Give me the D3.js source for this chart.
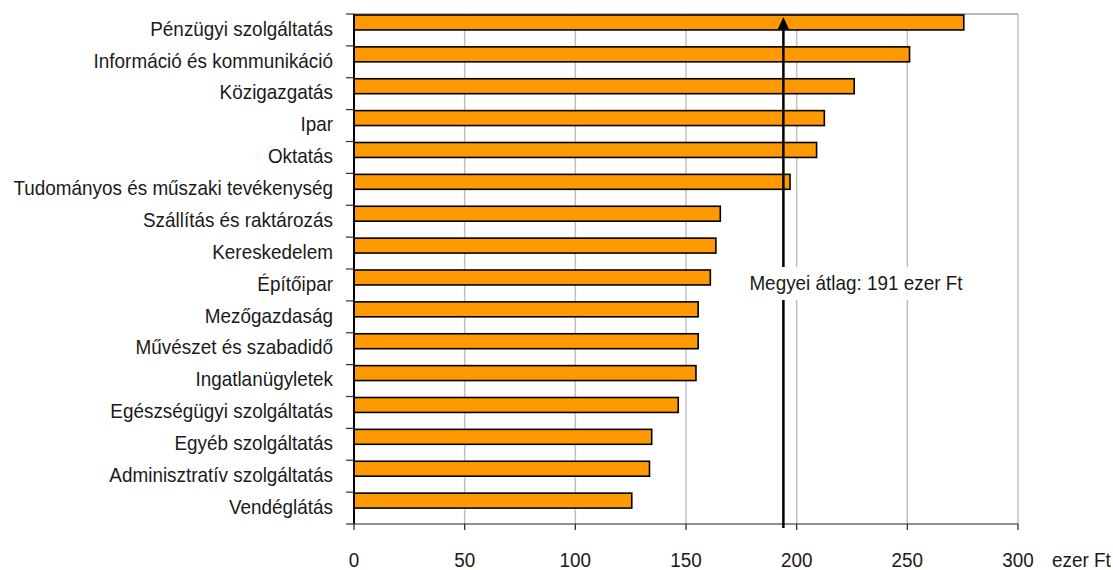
<!DOCTYPE html>
<html>
<head>
<meta charset="utf-8">
<script src="https://cdn.jsdelivr.net/npm/d3@7"></script>
<style>
  body { margin: 0; background: #fff; }
  text { font-family: "Liberation Sans", Arial, sans-serif; fill: #1a1a1a; font-size: 21px; }
</style>
</head>
<body>
<svg id="chart"></svg>
<script>
// data
var categories = ["Pénzügyi szolgáltatás", "Információ és kommunikáció", "Közigazgatás", "Ipar",
    "Oktatás", "Tudományos és műszaki tevékenység", "Szállítás és raktározás", "Kereskedelem",
    "Építőipar", "Mezőgazdaság", "Művészet és szabadidő", "Ingatlanügyletek",
    "Egészségügyi szolgáltatás", "Egyéb szolgáltatás", "Adminisztratív szolgáltatás", "Vendéglátás"];
var values = [275.5, 251, 226, 212.5, 209, 197, 165.5, 163.5, 161, 155.5, 155.5, 154.5, 146.5, 134.5, 133.5, 125.5];
var xTicks = [0, 50, 100, 150, 200, 250, 300];
var averagePos = 194;           // where the arrow is drawn
var averageLabel = "Megyei átlag: 191 ezer Ft";
var unitLabel = "ezer Ft";

var W = 1113, H = 570;
var margin = {top: 14, right: 95, bottom: 46, left: 354};
var width = W - margin.left - margin.right;
var height = H - margin.top - margin.bottom;
var squeeze = 0.9;   // the original text is narrow and tall

var svg = d3.select("#chart").attr("width", W).attr("height", H);
var g = svg.append("g").attr("transform", "translate(" + margin.left + "," + margin.top + ")");

var x = d3.scaleLinear().domain([0, 300]).range([0, width]);
var y = d3.scaleBand().domain(categories).range([0, height]).padding(0);
var bw = y.bandwidth();

function place(px, py) {
    return "translate(" + px + "," + py + ") scale(" + squeeze + ",1)";
}

// plot border top + gridlines
g.append("line").attr("x1", 0).attr("x2", width).attr("y1", 0).attr("y2", 0)
    .attr("stroke", "#a0a0a0").attr("stroke-width", 1.5);
g.selectAll(".grid").data(xTicks.slice(1)).enter().append("line")
    .attr("class", "grid")
    .attr("x1", function(d){ return x(d); }).attr("x2", function(d){ return x(d); })
    .attr("y1", 0).attr("y2", height)
    .attr("stroke", "#c0c0c0").attr("stroke-width", 1.5);

// bars
g.selectAll(".bar").data(values).enter().append("rect")
    .attr("class", "bar")
    .attr("x", 0)
    .attr("y", function(d, i){ return y(categories[i]) + 1; })
    .attr("width", function(d){ return x(d); })
    .attr("height", bw * 0.5 - 1)
    .attr("fill", "#ff9900")
    .attr("stroke", "#000")
    .attr("stroke-width", 1.6);

// y axis
g.append("line").attr("x1", 0).attr("x2", 0).attr("y1", 0).attr("y2", height)
    .attr("stroke", "#000").attr("stroke-width", 2);
var yTickPos = categories.map(function(c){ return y(c); }).concat([height]);
g.selectAll(".ytick").data(yTickPos).enter().append("line")
    .attr("x1", -8).attr("x2", 0)
    .attr("y1", function(d){ return d; }).attr("y2", function(d){ return d; })
    .attr("stroke", "#333").attr("stroke-width", 1.2);
g.selectAll(".ylabel").data(categories).enter().append("text")
    .attr("transform", function(d){ return place(-21, y(d) + bw * 0.68); })
    .attr("text-anchor", "end")
    .text(function(d){ return d; });

// x axis
g.append("line").attr("x1", 0).attr("x2", width).attr("y1", height).attr("y2", height)
    .attr("stroke", "#222").attr("stroke-width", 1.2);
g.selectAll(".xtick").data(xTicks).enter().append("line")
    .attr("x1", function(d){ return x(d); }).attr("x2", function(d){ return x(d); })
    .attr("y1", height).attr("y2", height + 6)
    .attr("stroke", "#222").attr("stroke-width", 1.2);
g.selectAll(".xlabel").data(xTicks).enter().append("text")
    .attr("transform", function(d){ return place(x(d), height + 43); })
    .attr("text-anchor", "middle")
    .attr("font-size", "20px")
    .text(function(d){ return d; });
g.append("text")
    .attr("transform", place(width + 34, height + 43))
    .attr("font-size", "20px")
    .text(unitLabel);

// average arrow
var ax = x(averagePos);
g.append("line").attr("x1", ax).attr("x2", ax).attr("y1", height + 4).attr("y2", 12)
    .attr("stroke", "#000").attr("stroke-width", 2.5);
g.append("path")
    .attr("d", "M" + (ax - 5.5) + ",15L" + ax + ",3L" + (ax + 5.5) + ",15Z")
    .attr("fill", "#000");

var lbl = g.append("g").attr("transform", "translate(" + (ax - 36) + "," + (yTickPos[8] - 2) + ")");
lbl.append("rect").attr("x", 0).attr("y", 0).attr("width", 222).attr("height", 33).attr("fill", "#fff");
lbl.append("text").attr("transform", place(2, 23)).text(averageLabel);
</script>
</body>
</html>
